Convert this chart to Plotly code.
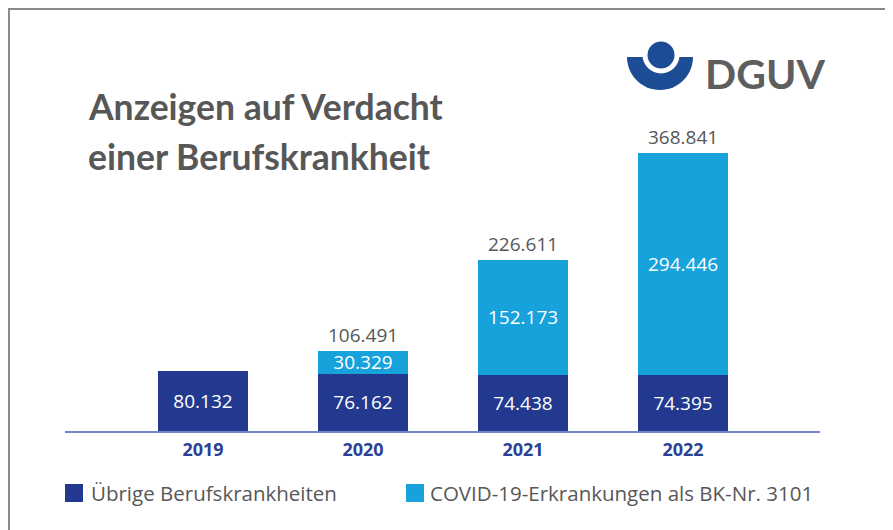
import math
import plotly.graph_objects as go

# ---- data ----
years = ["2019", "2020", "2021", "2022"]
uebrige = [80132, 76162, 74438, 74395]
covid = [None, 30329, 152173, 294446]
totals = [80132, 106491, 226611, 368841]
series_names = ["Übrige Berufskrankheiten", "COVID-19-Erkrankungen als BK-Nr. 3101"]
title_lines = ["Anzeigen auf Verdacht", "einer Berufskrankheit"]
logo_text = "DGUV"

# ---- style ----
DARK = "#22398f"
CYAN = "#17a2dc"
GRAY = "#575757"
YEARBLUE = "#2b3f94"
LOGOBLUE = "#1b4c94"
FONT = "Lato"
FONT2 = "Open Sans"

OFF = 8  # page body margin
W, H = 893 - OFF, 530 - OFF
# plot area in page pixel coords
PPL, PPR, PPT, PPB = 65, 820, 40, 431
PL, PR, PT, PB = PPL - OFF, PPR - OFF, PPT - OFF, PPB - OFF
YMAX = 518000


def px(x):  # page pixel -> paper
    return (x - OFF - PL) / (PR - PL)


def py(y):
    return (PB - (y - OFF)) / (PB - PT)


fig = go.Figure()
for vals, col, name in [(uebrige, DARK, series_names[0]), (covid, CYAN, series_names[1])]:
    fig.add_trace(go.Bar(
        x=years, y=vals, name=name, marker_color=col,
        marker_line_width=0,
        texttemplate="%{y:,}", textposition="inside", insidetextanchor="middle",
        textangle=0, constraintext="none",
        textfont=dict(color="white", size=19, family=FONT2, weight=500),
        showlegend=False,
    ))

annotations = []
for i, (yr, tot, cov) in enumerate(zip(years, totals, covid)):
    if cov is None:
        continue
    annotations.append(dict(
        x=i, y=tot, xref="x", yref="y", text=f"{tot:,}".replace(",", "."),
        showarrow=False, yanchor="bottom", yshift=1,
        font=dict(size=19, color=GRAY, family=FONT2, weight=500),
    ))

# title
for line, yc in zip(title_lines, [106, 156]):
    annotations.append(dict(x=px(86), y=py(yc), xref="paper", yref="paper", text=f"<b>{line}</b>",
                            showarrow=False, xanchor="left", yanchor="middle",
                            font=dict(size=35.5, color=GRAY, family=FONT)))
# logo text
annotations.append(dict(x=px(703), y=py(73), xref="paper", yref="paper", text=f"<b>{logo_text}</b>",
                        showarrow=False, xanchor="left", yanchor="middle",
                        font=dict(size=41, color="#5e5e5e", family=FONT)))

# legend (manual)
shapes = []
leg = [(65, 89, DARK, series_names[0]), (406, 428, CYAN, series_names[1])]
for sx, tx, col, name in leg:
    shapes.append(dict(type="rect", xref="paper", yref="paper",
                       x0=px(sx), x1=px(sx + 18), y0=py(502), y1=py(484),
                       fillcolor=col, line_width=0))
    annotations.append(dict(x=px(tx), y=py(493), xref="paper", yref="paper", text=name,
                            showarrow=False, xanchor="left", yanchor="middle",
                            font=dict(size=20.5, color=GRAY, family=FONT2, weight=500)))

# frame (left + top)
shapes.append(dict(type="path", xref="paper", yref="paper",
                   path=f"M {px(9)},{py(540)} L {px(9)},{py(9)} L {px(900)},{py(9)}",
                   line=dict(color="#8a8a8a", width=2)))

# logo: bowl
cx, cy, R = 660, 57, 33
pts = []
for i in range(0, 181, 6):
    a = math.radians(i)
    pts.append((cx + R * math.cos(a), cy + R * math.sin(a)))
path = "M " + " L ".join(f"{px(x)},{py(y)}" for x, y in pts) + " Z"
shapes.append(dict(type="path", xref="paper", yref="paper", path=path,
                   fillcolor=LOGOBLUE, line_width=0))
dcx, dcy = 661, 55
for r, c in [(18.5, "white"), (13.5, LOGOBLUE)]:
    shapes.append(dict(type="circle", xref="paper", yref="paper",
                       x0=px(dcx - r), x1=px(dcx + r), y0=py(dcy + r), y1=py(dcy - r),
                       fillcolor=c, line_width=0))

fig.update_layout(
    width=W, height=H,
    margin=dict(l=PL, r=W - PR, t=PT, b=H - PB),
    barmode="stack", bargap=0.4375,
    paper_bgcolor="white", plot_bgcolor="white",
    separators=",.",
    font=dict(family=FONT2),
    xaxis=dict(type="category", range=[-0.8625, 3.856], showline=True,
               linecolor="#6f86c9", linewidth=2, ticks="", showgrid=False,
               tickfont=dict(size=18, color=YEARBLUE, family=FONT2, weight="bold"),
               ticklabelstandoff=1),
    yaxis=dict(visible=False, range=[0, YMAX], showgrid=False, zeroline=False),
    annotations=annotations, shapes=shapes,
)

fig.write_html("out.html")
